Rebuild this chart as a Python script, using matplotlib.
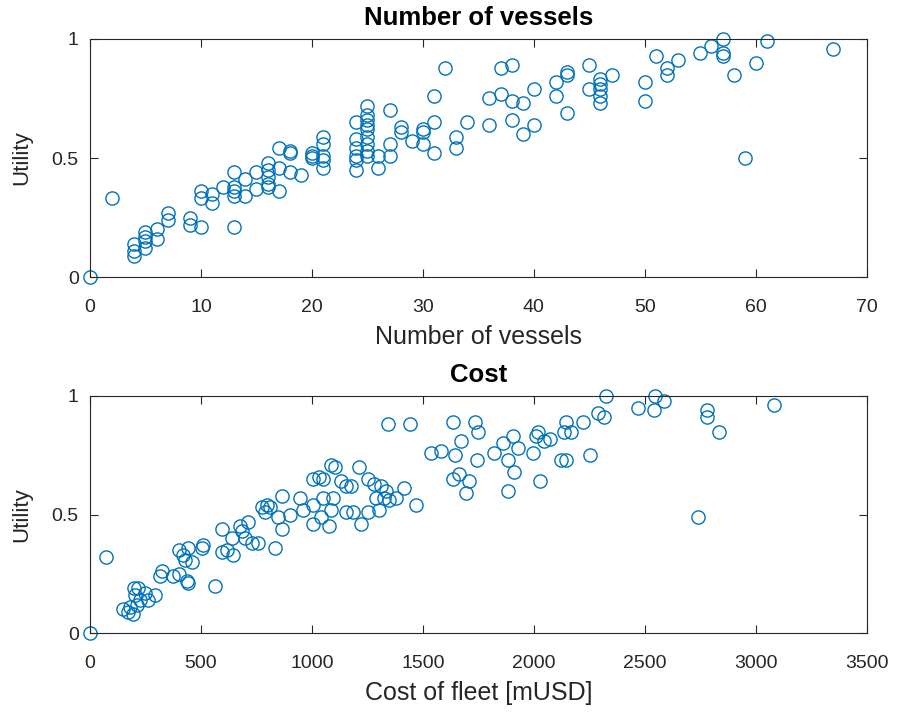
import numpy as np
import matplotlib
matplotlib.use("Agg")
import matplotlib.pyplot as plt

plt.rcParams['font.family'] = ['Liberation Sans', 'DejaVu Sans']

# fleet size vs utility
vessels = [0, 2, 4, 4, 4, 5, 5, 5, 5, 6, 6, 7, 7, 9, 9, 10, 10, 10, 11, 11, 12,
           13, 13, 13, 13, 13, 14, 14, 15, 15, 16, 16, 16, 16, 16, 17, 17, 17,
           18, 18, 18, 19, 20, 20, 20, 21, 21, 21, 21, 21,
           24, 24, 24, 24, 24, 24, 25, 25, 25, 25, 25, 25, 25, 25, 25, 26, 26,
           27, 27, 27, 28, 28, 29, 30, 30, 30, 31, 31, 31, 32, 33, 33, 34, 36, 36,
           37, 37, 38, 38, 38, 39, 39, 40, 40, 42, 42, 43, 43, 43, 45, 45,
           46, 46, 46, 46, 46, 47, 50, 50, 51, 52, 52, 53, 55, 56, 57, 57, 57,
           58, 59, 60, 61, 67]
utility_vessels = [0.00, 0.33, 0.14, 0.11, 0.09, 0.19, 0.17, 0.15, 0.12, 0.20, 0.16,
                   0.27, 0.24, 0.25, 0.22, 0.36, 0.33, 0.21, 0.35, 0.31, 0.38,
                   0.44, 0.38, 0.36, 0.34, 0.21, 0.41, 0.34, 0.44, 0.37,
                   0.48, 0.45, 0.42, 0.39, 0.38, 0.54, 0.46, 0.36,
                   0.53, 0.52, 0.44, 0.43, 0.52, 0.51, 0.50, 0.59, 0.56, 0.51, 0.49, 0.46,
                   0.65, 0.58, 0.54, 0.51, 0.49, 0.45, 0.72, 0.68, 0.66, 0.64, 0.62,
                   0.59, 0.56, 0.53, 0.51, 0.51, 0.46, 0.70, 0.56, 0.51, 0.63, 0.61,
                   0.57, 0.62, 0.61, 0.56, 0.76, 0.65, 0.52, 0.88, 0.59, 0.54, 0.65,
                   0.75, 0.64, 0.88, 0.77, 0.89, 0.74, 0.66, 0.73, 0.60, 0.79, 0.64,
                   0.82, 0.76, 0.86, 0.85, 0.69, 0.89, 0.79,
                   0.83, 0.81, 0.79, 0.76, 0.73, 0.85, 0.82, 0.74, 0.93, 0.88, 0.85,
                   0.91, 0.94, 0.97, 1.00, 0.94, 0.93, 0.85, 0.50, 0.90, 0.99, 0.96]

# fleet cost [mUSD] vs utility
cost = [0, 72, 150, 171, 195, 181, 200, 217, 203, 226, 212, 248, 262, 294, 325, 316,
        375, 402, 443, 435, 402, 420, 443, 461, 429, 510, 506, 565, 596, 596, 619,
        641, 646, 677, 686, 700, 713, 732, 759, 777, 799, 790, 835, 867, 867, 813,
        845, 903, 948, 962, 1007, 1030, 1084, 1106, 1052, 1129, 1152, 1174, 1048,
        1097, 1003, 1084, 1007, 1075, 1039, 1152, 1183, 1219, 1210, 1251, 1278,
        1310, 1332, 1287, 1323, 1346, 1301, 1251, 1377, 1414, 1468, 1341, 1441,
        1535, 1581, 1644, 1671, 1743, 1635, 1662, 1707, 1694, 1635, 1734, 1748,
        1820, 1860, 1906, 1883, 1910, 1928, 1883, 1996, 2019, 2010, 2046, 2073,
        2028, 2123, 2145, 2145, 2136, 2168, 2222, 2254, 2290, 2317, 2326, 2470,
        2543, 2547, 2588, 2778, 2778, 2836, 2741, 3080]
utility_cost = [0.00, 0.32, 0.10, 0.09, 0.08, 0.11, 0.19, 0.19, 0.16, 0.14, 0.12, 0.17,
                0.14, 0.16, 0.26, 0.24, 0.24, 0.25, 0.21, 0.22, 0.35, 0.33, 0.36, 0.30,
                0.31, 0.37, 0.36, 0.20, 0.44, 0.34, 0.35, 0.40, 0.33, 0.45, 0.43, 0.40,
                0.47, 0.38, 0.38, 0.53, 0.54, 0.51, 0.36, 0.58, 0.44, 0.53, 0.49, 0.50,
                0.57, 0.52, 0.65, 0.66, 0.71, 0.70, 0.65, 0.64, 0.62, 0.62, 0.57, 0.57,
                0.54, 0.52, 0.46, 0.45, 0.49, 0.51, 0.51, 0.46, 0.70, 0.65, 0.63, 0.62,
                0.60, 0.57, 0.57, 0.56, 0.52, 0.51, 0.57, 0.61, 0.54, 0.88, 0.88,
                0.76, 0.77, 0.75, 0.81, 0.73, 0.65, 0.67, 0.64, 0.59, 0.89, 0.89, 0.85,
                0.76, 0.80, 0.83, 0.73, 0.68, 0.78, 0.60, 0.76, 0.85, 0.83, 0.81, 0.82,
                0.64, 0.73, 0.73, 0.89, 0.85, 0.85, 0.89, 0.75, 0.93, 0.91, 1.00, 0.95,
                0.94, 1.00, 0.98, 0.94, 0.91, 0.85, 0.49, 0.96]

BLUE = '#0072BD'
DARK = '#262626'


def style_axes(ax):
    for s in ax.spines.values():
        s.set_color(DARK)
        s.set_linewidth(0.8)
    ax.tick_params(direction='in', length=6, width=0.8, colors=DARK,
                   labelsize=14, top=True, right=True)
    ax.tick_params(axis='x', pad=16)
    ax.tick_params(axis='y', pad=8)
    ax.set_yticks([0, 0.5, 1])
    ax.set_yticklabels(['0', '0.5', '1'])
    ax.set_ylim(0, 1)
    ax.set_ylabel('Utility', fontsize=16, color=DARK, labelpad=14)


fig = plt.figure(figsize=(8.97, 7.14), dpi=100)

ax1 = fig.add_axes([0.1003, 0.612, 0.866, 0.3334])
ax1.plot(vessels, utility_vessels, 'o', mfc='none', mec=BLUE, ms=9.5, mew=1.0,
         clip_on=False)
ax1.set_xlim(0, 70)
ax1.set_xticks(np.arange(0, 71, 10))
style_axes(ax1)
ax1.set_xlabel('Number of vessels', fontsize=18, color=DARK, labelpad=6)
ax1.set_title('Number of vessels', fontsize=18.5, fontweight='bold', pad=10)

ax2 = fig.add_axes([0.1003, 0.1134, 0.866, 0.332])
ax2.plot(cost, utility_cost, 'o', mfc='none', mec=BLUE, ms=9.5, mew=1.0,
         clip_on=False)
ax2.set_xlim(0, 3500)
ax2.set_xticks(np.arange(0, 3501, 500))
style_axes(ax2)
ax2.set_xlabel('Cost of fleet [mUSD]', fontsize=18, color=DARK, labelpad=6)
ax2.set_title('Cost', fontsize=18.5, fontweight='bold', pad=10)

fig.savefig('out.png', dpi=100)
